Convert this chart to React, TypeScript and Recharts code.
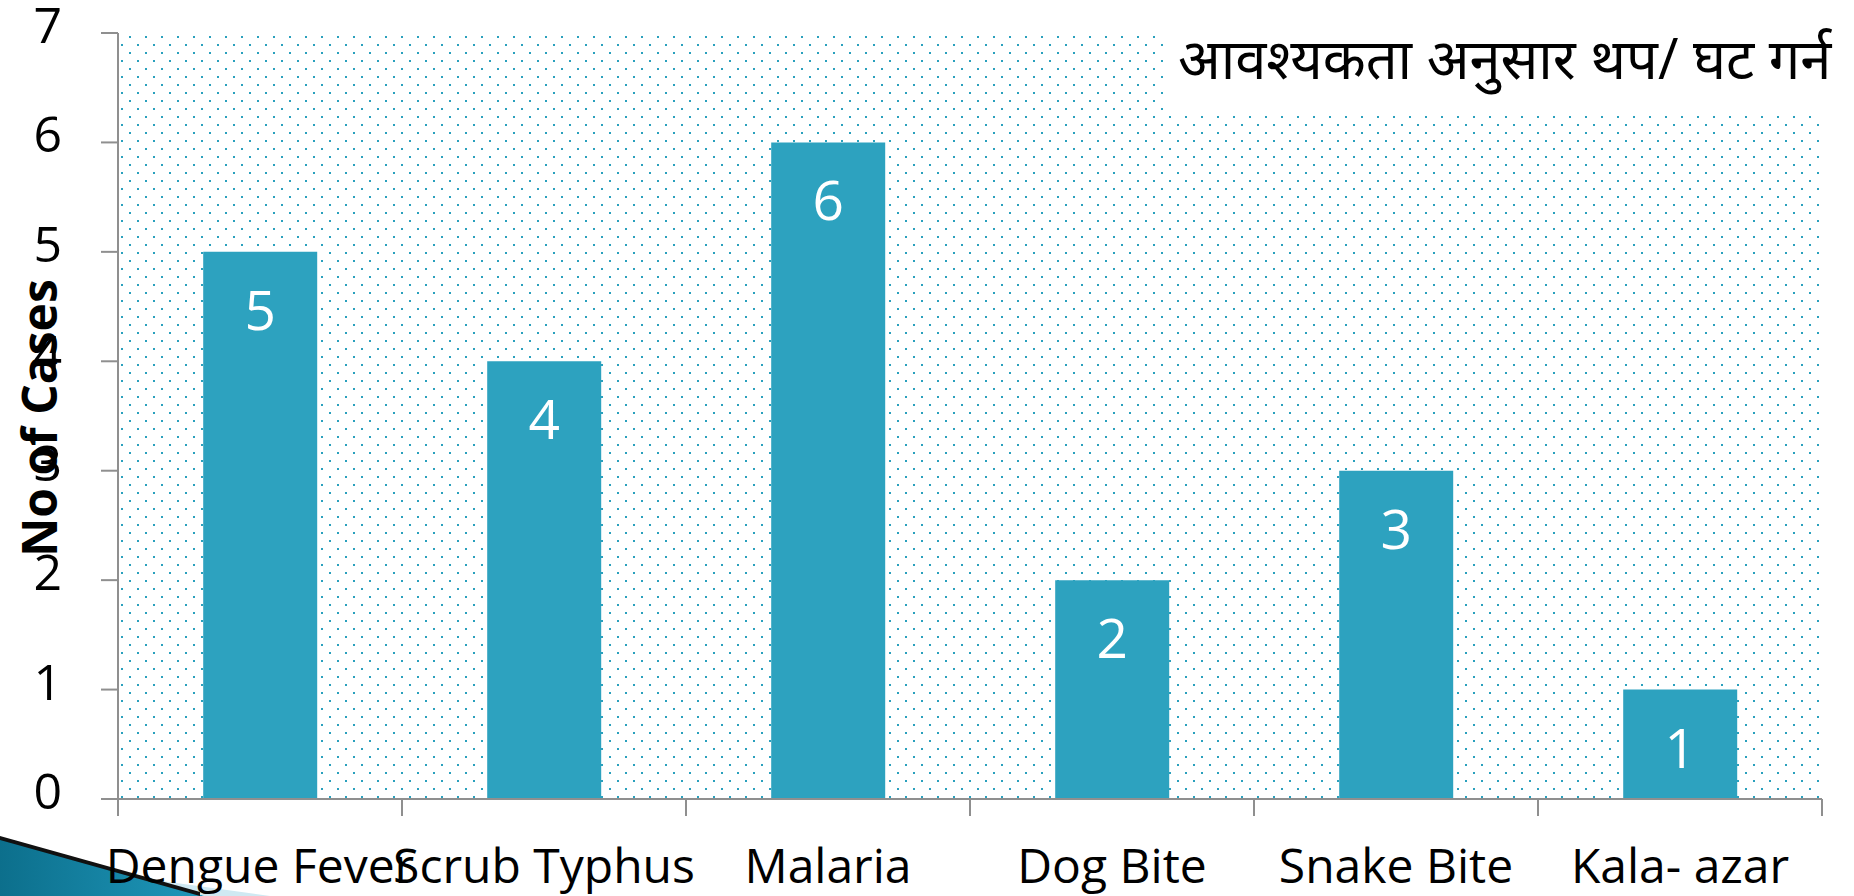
import React from 'react';
import { BarChart, Bar, XAxis, YAxis, CartesianGrid, LabelList } from 'recharts';

const categories = ['Dengue Fever', 'Scrub Typhus', 'Malaria', 'Dog Bite', 'Snake Bite', 'Kala- azar'];
const cases = [5, 4, 6, 2, 3, 1];
const yTicks = [0, 1, 2, 3, 4, 5, 6, 7];
const note = 'आवश्यकता अनुसार थप/ घट गर्न';

const data = categories.map((name, i) => ({ name, cases: cases[i] }));

const FONT = '"Open Sans", "Noto Sans", sans-serif';
const AXIS = '#8f8f8f';
const BAR = '#2da2bf';
const TICK = 17;

// category label plus the tick marks on the category boundaries (half a band either side)
const XTick = ({ x, y, payload, index }: any) => {
    const half = payload.offset ?? 0;
    const top = y - TICK;
    return (
        <g>
            <line x1={x - half} x2={x - half} y1={top} y2={y} stroke={AXIS} strokeWidth={2} />
            {index === categories.length - 1 && (
                <line x1={x + half} x2={x + half} y1={top} y2={y} stroke={AXIS} strokeWidth={2} />
            )}
            <text x={x} y={y + 67} textAnchor="middle" fontFamily={FONT} fontSize={48} fill="#000">
                {payload.value}
            </text>
        </g>
    );
};

const YTick = ({ x, y, payload }: any) => (
    <text x={x - 39} y={y + 10} textAnchor="end" fontFamily={FONT} fontSize={50} fill="#000">
        {payload.value}
    </text>
);

const BarValue = ({ x, y, width, value }: any) => (
    <text x={x + width / 2} y={y + 78} textAnchor="middle" fontFamily={FONT} fontSize={55} fill="#fff">
        {value}
    </text>
);

const YTitle = ({ viewBox }: any) => {
    const cx = viewBox.x + 38;
    const cy = viewBox.y + viewBox.height / 2 + 2;
    return (
        <text
            x={cx}
            y={cy}
            transform={`rotate(-90 ${cx} ${cy})`}
            textAnchor="middle"
            dominantBaseline="central"
            fontFamily={FONT}
            fontWeight={700}
            fontSize={48}
            fill="#000"
        >
            No of Cases
        </text>
    );
};

const App: React.FC = () => {
    return (
        <div style={{ position: 'absolute', left: 0, top: 0, width: 1854, height: 896, background: '#fff', overflow: 'hidden' }}>
            {/* slide decoration, bottom left */}
            <svg width={300} height={70} style={{ position: 'absolute', left: 0, top: 826 }}>
                <defs>
                    <linearGradient id="wedge" x1="0" y1="0" x2="1" y2="0">
                        <stop offset="0%" stopColor="#0c6f8c" />
                        <stop offset="100%" stopColor="#1f98bb" />
                    </linearGradient>
                </defs>
                <polygon points="0,12 205,70 0,70" fill="url(#wedge)" />
                <polygon points="140,52 270,70 205,70" fill="#cfe9f2" />
                <polygon points="0,10 200,66 200,70 0,14" fill="#111" />
            </svg>

            <div style={{ position: 'absolute', left: 0, top: 0 }}>
                <BarChart
                    width={1854}
                    height={896}
                    data={data}
                    margin={{ top: 33, right: 32, bottom: 0, left: 0 }}
                    barCategoryGap="30%"
                >
                    <defs>
                        <pattern id="dots" patternUnits="userSpaceOnUse" width={16} height={16}>
                            <rect x={9} y={12} width={2} height={2} fill="#2aa0bd" />
                            <rect x={1} y={4} width={2} height={2} fill="#2aa0bd" />
                        </pattern>
                    </defs>
                    <CartesianGrid horizontal={false} vertical={false} fill="url(#dots)" />
                    <XAxis
                        dataKey="name"
                        interval={0}
                        height={97}
                        tickSize={TICK}
                        tickMargin={0}
                        stroke={AXIS}
                        strokeWidth={2}
                        tickLine={{ stroke: 'none' }}
                        tick={<XTick />}
                    />
                    <YAxis
                        domain={[0, 7]}
                        ticks={yTicks}
                        width={118}
                        tickSize={TICK}
                        tickMargin={0}
                        stroke={AXIS}
                        strokeWidth={2}
                        tick={<YTick />}
                        label={<YTitle />}
                    />
                    <Bar dataKey="cases" fill={BAR} isAnimationActive={false}>
                        <LabelList dataKey="cases" content={<BarValue />} />
                    </Bar>
                </BarChart>
            </div>

            <div
                style={{
                    position: 'absolute',
                    left: 1168,
                    top: 18,
                    width: 686,
                    height: 94,
                    background: '#fff',
                    fontFamily: FONT,
                    fontSize: 56,
                    lineHeight: '78px',
                    paddingLeft: 10,
                    boxSizing: 'border-box',
                    whiteSpace: 'nowrap',
                    color: '#000',
                }}
            >
                {note}
            </div>
        </div>
    );
};

export default App;
